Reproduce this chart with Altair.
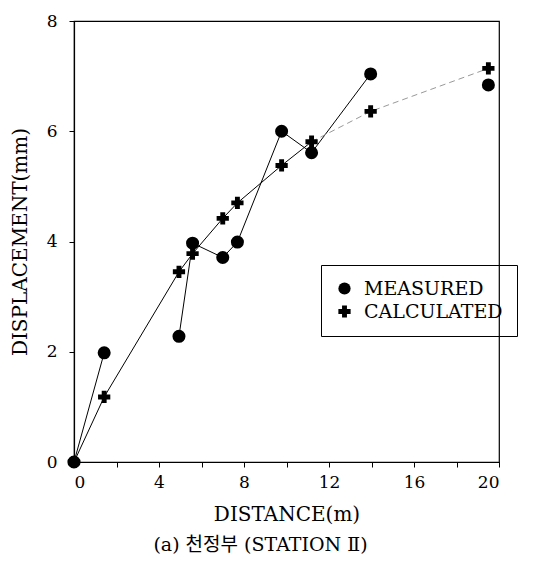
import altair as alt
import pandas as pd

distance = [0, 1.42, 4.94, 5.58, 7.0, 7.69, 9.77, 11.18, 13.96, 19.5]
measured = [0, 1.98, 2.28, 3.97, 3.71, 3.99, 6.0, 5.61, 7.04, 6.84]
calculated = [0, 1.18, 3.45, 3.78, 4.42, 4.70, 5.38, 5.81, 6.36, 7.14]
# line segments of the measured series (the scan shows breaks)
measured_segment = [1, 1, 2, 2, 2, 2, 2, 2, 2, 0]
series_names = ["MEASURED", "CALCULATED"]
x_ticks = [0, 2, 4, 6, 8, 10, 12, 14, 16, 18, 20]
y_ticks = [0, 2, 4, 6, 8]

rows = []
for i, d in enumerate(distance):
    rows.append({"distance": d, "value": measured[i], "series": "MEASURED", "idx": i,
                 "seg": measured_segment[i]})
    rows.append({"distance": d, "value": calculated[i], "series": "CALCULATED", "idx": i,
                 "seg": 1})
df = pd.DataFrame(rows)

FONT = "DejaVu Serif"

x_enc = alt.X("distance:Q", scale=alt.Scale(domain=[0, 20], nice=False),
              axis=alt.Axis(values=x_ticks, title="DISTANCE(m)",
                            labelExpr="datum.value % 4 == 0 ? datum.label : ''"))
y_enc = alt.Y("value:Q", scale=alt.Scale(domain=[0, 8], nice=False),
              axis=alt.Axis(values=y_ticks, title="DISPLACEMENT(mm)"))

base = alt.Chart(df)

line_meas = base.transform_filter(
    (alt.datum.series == "MEASURED") & (alt.datum.seg > 0)
).mark_line(color="black", strokeWidth=1).encode(
    x=x_enc, y=y_enc, order="idx:Q", detail="seg:N")

line_calc = base.transform_filter(
    (alt.datum.series == "CALCULATED") & (alt.datum.idx <= 7)
).mark_line(color="black", strokeWidth=1).encode(x=x_enc, y=y_enc, order="idx:Q")

line_calc_faint = base.transform_filter(
    (alt.datum.series == "CALCULATED") & (alt.datum.idx >= 7)
).mark_line(color="#999999", strokeWidth=1, strokeDash=[6, 4]).encode(x=x_enc, y=y_enc, order="idx:Q")

points = base.mark_point(filled=True, color="black", opacity=1, clip=False).encode(
    x=x_enc, y=y_enc,
    shape=alt.Shape("series:N",
                    scale=alt.Scale(domain=series_names, range=["circle", "cross"]),
                    legend=alt.Legend(title=None, orient="none", legendX=247, legendY=244,
                                      strokeColor="black", padding=14,
                                      labelFont=FONT, labelFontSize=19, labelColor="black",
                                      symbolFillColor="black", symbolStrokeColor="black",
                                      symbolSize=150, rowPadding=3, labelOffset=10)),
    size=alt.condition(alt.datum.series == "MEASURED", alt.value(170), alt.value(150)),
)

chart = alt.layer(line_meas, line_calc, line_calc_faint, points).properties(
    width=425, height=441,
    padding={"left": 66, "top": 13, "right": 48, "bottom": 95},
    autosize=alt.AutoSizeParams(type="none"),
    title=alt.TitleParams(text="(a) 천정부 (STATION Ⅱ)", orient="bottom",
                          font='"DejaVu Serif", "Noto Sans CJK KR", serif', fontSize=19,
                          fontWeight="normal", color="black", offset=12, dx=-26),
).configure_view(stroke="black", strokeWidth=1.2).configure_axis(
    domainColor="black", tickColor="black", labelColor="black", titleColor="black",
    labelFont=FONT, titleFont=FONT, labelFontSize=17, titleFontSize=20,
    titleFontWeight="normal", grid=False, tickSize=5, domainWidth=1.2,
).configure_axisX(labelPadding=7, titlePadding=14).configure_axisY(
    labelPadding=12, titlePadding=16)

chart.save("out.html", embed_options={"renderer": "svg", "actions": False})
